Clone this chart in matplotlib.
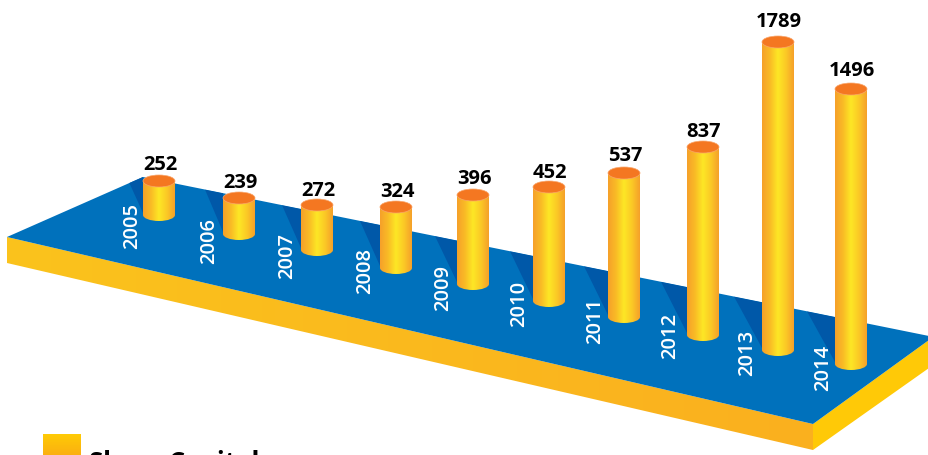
import numpy as np
import matplotlib
matplotlib.use("Agg")
import matplotlib.pyplot as plt
from matplotlib.colors import LinearSegmentedColormap
from matplotlib.patches import Ellipse, PathPatch, Polygon
from matplotlib.path import Path

years = [2005, 2006, 2007, 2008, 2009, 2010, 2011, 2012, 2013, 2014]
share_capital = [252, 239, 272, 324, 396, 452, 537, 837, 1789, 1496]

# drawn height of each cylinder (not quite to scale in the original)
drawn_heights = [34, 36, 45, 61, 89, 114, 144, 188, 308, 275]

# layout, in pixels of the 929x456 image
center_x = [159, 239, 317, 396, 473, 549, 624, 703, 778, 851]
base_y = [216, 235, 251, 269, 285, 302, 318, 336, 351, 365]
label_gap = [12, 11, 10, 11, 12, 10, 13, 11, 16, 14]
year_x = [132, 209, 287, 365, 443, 519, 595, 670, 747, 823]
year_y = [226, 241, 256, 271, 288, 304, 321, 336, 353, 368]
stripe_offset = [34, 34, 35, 36, 38, 39, 40, 42, 44, 44]

plt.rcParams['font.family'] = ['Open Sans', 'DejaVu Sans']

BLUE = "#0071bc"
STRIPE = "#0058a8"
CAP = "#f47721"
R = 16
RY = 6

bar_cmap = LinearSegmentedColormap.from_list(
    "bar", ["#f6a02a", "#f9bb26", "#fde725", "#fbc926", "#f5a02a"])
swatch_cmap = LinearSegmentedColormap.from_list("swatch", ["#ffcb05", "#f7941d"])
side_cmap = LinearSegmentedColormap.from_list("side", ["#fbc31c", "#fab01f"])

fig = plt.figure(figsize=(9.29, 4.56), dpi=100)
ax = fig.add_axes([0, 0, 1, 1])
ax.axis("off")


def gradient(extent, cmap, clip=None, vertical=False):
    g = np.linspace(0, 1, 256)
    g = g.reshape(-1, 1) if vertical else g.reshape(1, -1)
    im = ax.imshow(g, extent=extent, cmap=cmap, aspect="auto", origin="upper", zorder=2)
    if clip is not None:
        im.set_clip_path(clip)
    return im


# platform
left_face = Polygon([(7, 238), (813, 425), (813, 451), (7, 264)], closed=True,
                    transform=ax.transData, fc="none", ec="none")
ax.add_patch(left_face)
gradient((7, 813, 451, 238), side_cmap, left_face)
ax.add_patch(Polygon([(813, 425), (929, 341), (929, 369), (813, 451)], fc="#ffc907", ec="none", zorder=2))
deck = Polygon([(7, 238), (143, 178), (929, 337), (929, 341), (813, 425)], fc=BLUE, ec="none", zorder=2)
ax.add_patch(deck)


def back_edge(x):
    return 178 + (x - 143) * (337 - 178) / (929 - 143)


# dark stripes behind the cylinders
for cx, by, off in zip(center_x, base_y, stripe_offset):
    x0 = cx - off
    x1 = cx - R
    stripe = Polygon([(x0, back_edge(x0)), (x1, back_edge(x1)), (x1, by - 2)],
                     fc=STRIPE, ec="none", zorder=3)
    ax.add_patch(stripe)
    stripe.set_clip_path(deck)

# cylinders
for cx, by, h, v, gap in zip(center_x, base_y, drawn_heights, share_capital, label_gap):
    top = by - h
    k = 0.5523 * RY
    kx = 0.5523 * R
    verts = [(cx - R, top), (cx - R, by),
             (cx - R, by + k), (cx - kx, by + RY), (cx, by + RY),
             (cx + kx, by + RY), (cx + R, by + k), (cx + R, by),
             (cx + R, top), (cx - R, top)]
    codes = [Path.MOVETO, Path.LINETO,
             Path.CURVE4, Path.CURVE4, Path.CURVE4,
             Path.CURVE4, Path.CURVE4, Path.CURVE4,
             Path.LINETO, Path.CLOSEPOLY]
    body = PathPatch(Path(verts, codes), fc="none", ec="none", zorder=4)
    ax.add_patch(body)
    im = gradient((cx - R, cx + R, by + RY, top), bar_cmap, body)
    im.set_zorder(4)
    ax.add_patch(Ellipse((cx, top), 2 * R, 2 * RY, fc=CAP, ec="#f9a56a", lw=0.5, zorder=5))
    ax.text(cx + 1, top - gap, str(v), ha="center", va="baseline", fontsize=14.5,
            fontweight="bold", color="black", zorder=6)

# year labels
for yr, x, y in zip(years, year_x, year_y):
    ax.text(x, y, str(yr), rotation=90, ha="center", va="center", fontsize=14.5,
            fontweight="semibold", color="white", zorder=6)

# legend, cut off by the bottom of the image in the original
gradient((43, 81, 476, 436), swatch_cmap, vertical=True)
ax.text(89, 471, "Share Capital", ha="left", va="baseline", fontsize=18.5,
        fontweight="bold", color="black", zorder=6)

ax.set_xlim(0, 929)
ax.set_ylim(456, 0)
fig.savefig("out.png", dpi=100)
